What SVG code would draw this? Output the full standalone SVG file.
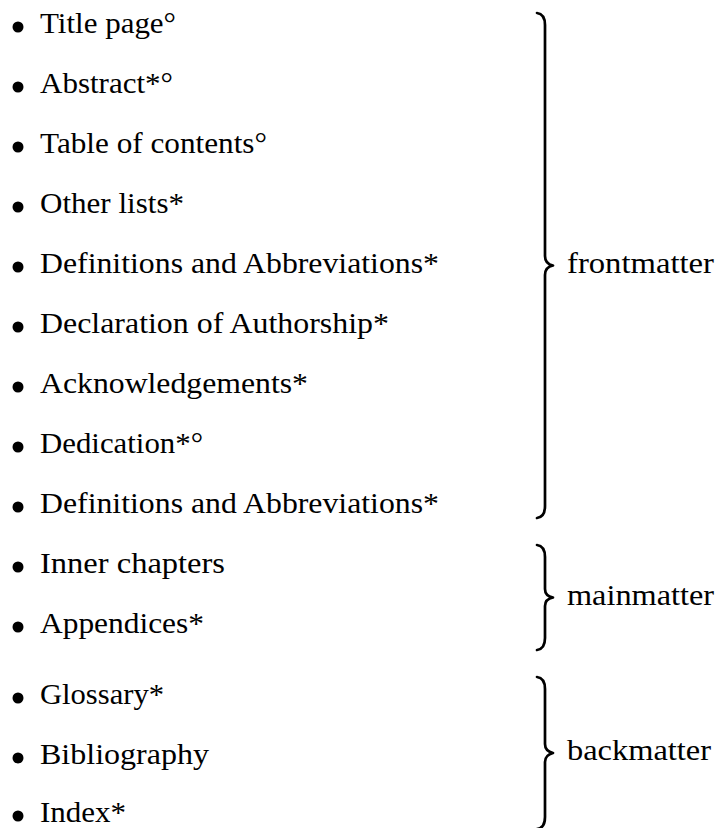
<svg xmlns="http://www.w3.org/2000/svg" width="718" height="828" viewBox="0 0 718 828">
<style>
.t{font-family:"Liberation Serif","Times New Roman",serif;font-size:29px;fill:#000}
.b{fill:#000}
.br{fill:none;stroke:#000;stroke-width:2.7;stroke-linecap:round;stroke-linejoin:round}
</style>
<rect width="718" height="828" fill="#fff"/>
<g id="item-title"><circle class="b" cx="18" cy="27" r="5.5"/><text class="t" x="40" y="33" textLength="136" lengthAdjust="spacingAndGlyphs">Title page°</text></g>
<g id="item-abstract"><circle class="b" cx="18" cy="87" r="5.5"/><text class="t" x="40" y="93" textLength="133" lengthAdjust="spacingAndGlyphs">Abstract*°</text></g>
<g id="item-toc"><circle class="b" cx="18" cy="147" r="5.5"/><text class="t" x="40" y="153" textLength="227" lengthAdjust="spacingAndGlyphs">Table of contents°</text></g>
<g id="item-otherlists"><circle class="b" cx="18" cy="207" r="5.5"/><text class="t" x="40" y="213" textLength="144" lengthAdjust="spacingAndGlyphs">Other lists*</text></g>
<g id="item-defs1"><circle class="b" cx="18" cy="267" r="5.5"/><text class="t" x="40" y="273" textLength="399" lengthAdjust="spacingAndGlyphs">Definitions and Abbreviations*</text></g>
<g id="item-declaration"><circle class="b" cx="18" cy="327" r="5.5"/><text class="t" x="40" y="333" textLength="349" lengthAdjust="spacingAndGlyphs">Declaration of Authorship*</text></g>
<g id="item-ack"><circle class="b" cx="18" cy="387" r="5.5"/><text class="t" x="40" y="393" textLength="268" lengthAdjust="spacingAndGlyphs">Acknowledgements*</text></g>
<g id="item-dedication"><circle class="b" cx="18" cy="447" r="5.5"/><text class="t" x="40" y="453" textLength="163" lengthAdjust="spacingAndGlyphs">Dedication*°</text></g>
<g id="item-defs2"><circle class="b" cx="18" cy="507" r="5.5"/><text class="t" x="40" y="513" textLength="399" lengthAdjust="spacingAndGlyphs">Definitions and Abbreviations*</text></g>
<g id="item-inner"><circle class="b" cx="18" cy="567" r="5.5"/><text class="t" x="40" y="573" textLength="185" lengthAdjust="spacingAndGlyphs">Inner chapters</text></g>
<g id="item-appendices"><circle class="b" cx="18" cy="627" r="5.5"/><text class="t" x="40" y="633" textLength="164" lengthAdjust="spacingAndGlyphs">Appendices*</text></g>
<g id="item-glossary"><circle class="b" cx="18" cy="698" r="5.5"/><text class="t" x="40" y="704" textLength="124" lengthAdjust="spacingAndGlyphs">Glossary*</text></g>
<g id="item-bib"><circle class="b" cx="18" cy="758" r="5.5"/><text class="t" x="40" y="764" textLength="169" lengthAdjust="spacingAndGlyphs">Bibliography</text></g>
<g id="item-index"><circle class="b" cx="18" cy="816" r="5.5"/><text class="t" x="40" y="822" textLength="86" lengthAdjust="spacingAndGlyphs">Index*</text></g>
<g id="connectors">
<path class="br" d="M537,13 Q545,14 545,25 L545,256 Q545,264 553,265.5 Q545,267 545,275 L545,506 Q545,517 537,518"/>
<path class="br" d="M537,545 Q545,546 545,557 L545,589 Q545,596 553,597.5 Q545,599 545,606 L545,638 Q545,649 537,650"/>
<path class="br" d="M537,677 Q545,678 545,689 L545,744 Q545,751 553,753 Q545,755 545,762 L545,817 Q545,828 537,829"/>
</g>
<g id="label-front"><text class="t" x="567" y="273" textLength="147" lengthAdjust="spacingAndGlyphs">frontmatter</text></g>
<g id="label-main"><text class="t" x="567" y="605" textLength="147" lengthAdjust="spacingAndGlyphs">mainmatter</text></g>
<g id="label-back"><text class="t" x="567" y="760" textLength="144" lengthAdjust="spacingAndGlyphs">backmatter</text></g>
</svg>
